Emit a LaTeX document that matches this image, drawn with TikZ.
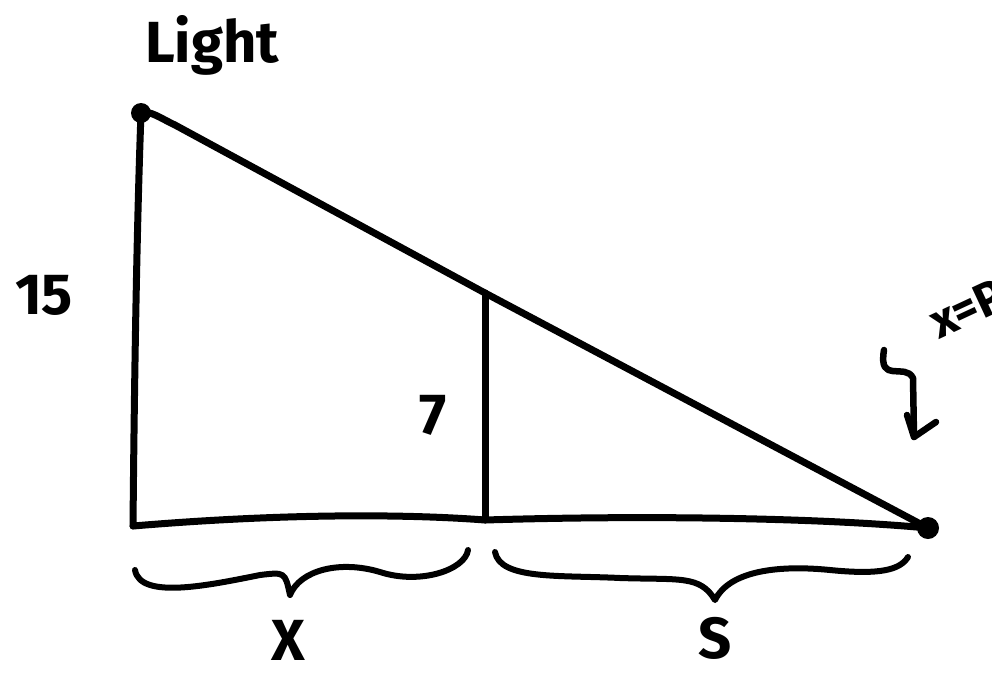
\documentclass[tikz,border=0pt]{standalone}
\usepackage{fontspec}
\setmainfont{Fira Sans}
\usetikzlibrary{arrows.meta}
\begin{document}
\begin{tikzpicture}[x=1pt,y=-1pt,
  ink/.style={line width=7pt,line cap=round,line join=round},
  dotnode/.style={circle,fill=black,inner sep=0pt,minimum size=20pt},
  lbl/.style={font=\fontsize{58}{62}\selectfont\bfseries,inner sep=0pt}]
\useasboundingbox (0,0) rectangle (992,675);
\begin{scope}
\clip (0,0) rectangle (992,675);
% points
\node[dotnode] (L) at (141,113) {};
\coordinate (B) at (133,526);
\coordinate (T) at (485,293);
\coordinate (P) at (485,520);
\node[dotnode,minimum size=22pt] (E) at (928,528) {};
% triangle
\draw[ink] (L.center) .. controls (136,250) and (134,420) .. (B);
\draw[ink] (B) .. controls (300,512) and (420,515) .. (P) .. controls (650,515) and (820,518) .. (E.center);
\draw[ink] (L.center) .. controls (150,110) and (160,118) .. (175,125) -- (T) -- (E.center);
\draw[ink] (T) -- (P);
% labels
\node[lbl] (light) at (212,45) {Light};
\node[lbl] (h15) at (44,295) {15};
\node[lbl] (h7) at (433,415) {7};
\node[lbl] (lx) at (288,640) {X};
\node[lbl] (ls) at (715,638) {S};
\node[lbl,rotate=25,anchor=west,font=\fontsize{48}{52}\selectfont\bfseries] (xp) at (932,325) {x=P};
% braces
\draw[ink,line width=6pt] (135,570) .. controls (140,600) and (210,585) .. (260,575) .. controls (285,572) .. (290,595)
  .. controls (300,570) and (340,560) .. (380,572) .. controls (420,585) and (465,570) .. (468,550);
\draw[ink,line width=6pt] (495,552) .. controls (500,580) and (560,575) .. (620,578) .. controls (680,580) and (700,575) .. (715,600)
  .. controls (730,570) and (780,565) .. (830,570) .. controls (880,575) and (900,570) .. (908,557);
% squiggle arrow
\coordinate (s0) at (884,350);
\coordinate (s1) at (914,437);
\draw[ink,line width=6.5pt] (s0) .. controls (878,385) and (905,362) .. (913,378) -- (s1);
\draw[ink,line width=6.5pt] (907,415) -- (s1) -- (936,422);
\end{scope}
\end{tikzpicture}
\end{document}
